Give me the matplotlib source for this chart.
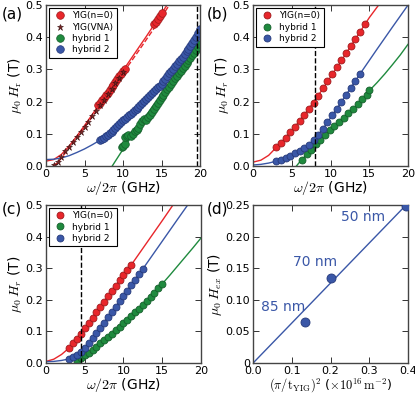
import matplotlib
matplotlib.use("Agg")
import matplotlib.pyplot as plt
from matplotlib.ticker import FuncFormatter

plt.rcParams['mathtext.fontset'] = 'cm'
plt.rcParams['xtick.direction'] = 'in'
plt.rcParams['ytick.direction'] = 'in'
plt.rcParams['xtick.top'] = True
plt.rcParams['ytick.right'] = True
plt.rcParams['font.size'] = 8

RED, GREEN, BLUE = '#e8262b', '#1f8a3e', '#3a57a7'
RED_E, GREEN_E, BLUE_E = '#9e1a1c', '#155e2b', '#25397a'

# ---------- panel (a) ----------
a_red_f = [6.8, 7.0, 7.25, 7.5, 7.75, 8.0, 8.25, 8.5, 8.75, 9.0, 9.25, 9.5, 9.75, 10.0, 10.25,
           14.0, 14.25, 14.5, 14.75, 15.0]
a_red_h = [0.19, 0.196, 0.204, 0.212, 0.22, 0.228, 0.236, 0.245, 0.253, 0.262, 0.27, 0.279, 0.287, 0.295, 0.303,
           0.44, 0.449, 0.458, 0.467, 0.476]
a_vna_f = [1.0, 1.5, 2.0, 2.5, 3.0, 3.5, 4.0, 4.5, 5.0, 5.5, 6.0, 6.5, 7.0, 7.5, 8.0, 8.5, 9.0, 9.5, 10.0]
a_vna_h = [0.004, 0.012, 0.028, 0.045, 0.06, 0.075, 0.09, 0.106, 0.122, 0.138, 0.155, 0.172, 0.189, 0.206,
           0.223, 0.24, 0.257, 0.274, 0.291]
a_h1_f = [9.8, 10.0, 10.2, 10.3, 10.5, 10.7, 11.0, 11.25, 11.5, 11.75, 12.0, 12.25, 12.5, 12.75, 13.0,
          13.25, 13.5, 13.75, 14.0, 14.25, 14.5, 14.75, 15.0, 15.25, 15.5, 15.75, 16.0, 16.25, 16.5,
          16.75, 17.0, 17.25, 17.5, 17.75, 18.0, 18.25, 18.5, 18.75, 19.0, 19.25, 19.5, 19.75, 20.0]
a_h1_h = [0.058, 0.063, 0.068, 0.09, 0.093, 0.096, 0.092, 0.1, 0.108, 0.112, 0.118, 0.13, 0.14, 0.147,
          0.143, 0.152, 0.16, 0.169, 0.178, 0.187, 0.196, 0.205, 0.213, 0.222, 0.23, 0.239, 0.247, 0.256,
          0.264, 0.272, 0.28, 0.288, 0.296, 0.304, 0.312, 0.32, 0.328, 0.336, 0.344, 0.352, 0.36, 0.369,
          0.378]
a_h2_f = [7.0, 7.25, 7.5, 7.75, 8.0, 8.25, 8.5, 8.75, 9.0, 9.25, 9.5, 9.75, 10.0, 10.25, 10.5, 10.75,
          11.0, 11.25, 11.5, 11.75, 12.0, 12.25, 12.5, 12.75, 13.0, 13.25, 13.5, 13.75, 14.0, 14.25,
          14.5, 14.75, 15.0, 15.25, 15.5, 15.75, 16.0, 16.25, 16.5, 16.75, 17.0, 17.25, 17.5, 17.75,
          18.0, 18.25, 18.5, 18.75, 19.0, 19.25, 19.5, 19.75, 20.0]
a_h2_h = [0.08, 0.084, 0.088, 0.092, 0.097, 0.102, 0.107, 0.112, 0.118, 0.124, 0.13, 0.136, 0.142, 0.147,
          0.152, 0.158, 0.163, 0.168, 0.173, 0.178, 0.184, 0.19, 0.196, 0.202, 0.208, 0.214, 0.22, 0.226,
          0.232, 0.238, 0.244, 0.25, 0.256, 0.263, 0.27, 0.279, 0.288, 0.295, 0.303, 0.31, 0.318, 0.325,
          0.333, 0.34, 0.348, 0.356, 0.365, 0.374, 0.383, 0.392, 0.402, 0.413, 0.425]
a_redfit_f = [0, 1, 2, 3, 4, 5, 6, 7, 8, 9, 10, 11, 12, 13, 14, 15, 15.7]
a_redfit_h = [0.015, 0.02, 0.036, 0.062, 0.093, 0.126, 0.16, 0.195, 0.229, 0.263, 0.297, 0.332, 0.367,
              0.402, 0.438, 0.474, 0.5]
a_vnafit_f = [0.9, 1.5, 2, 3, 4, 5, 6, 7, 8, 9, 10, 11, 12, 13, 14, 15, 16.0]
a_vnafit_h = [0.0, 0.01, 0.025, 0.056, 0.088, 0.12, 0.153, 0.187, 0.221, 0.255, 0.289, 0.323, 0.357,
              0.392, 0.427, 0.463, 0.5]
a_h1fit_f = [8.6, 9, 10, 11, 12, 13, 14, 15, 16, 17, 18, 19, 20]
a_h1fit_h = [0.0, 0.015, 0.052, 0.088, 0.123, 0.157, 0.19, 0.222, 0.254, 0.285, 0.316, 0.347, 0.378]
a_h2fit_f = [0, 1, 2, 3, 4, 5, 6, 7, 8, 10, 12, 14, 16, 18, 20]
a_h2fit_h = [0.02, 0.021, 0.025, 0.032, 0.042, 0.053, 0.066, 0.08, 0.097, 0.142, 0.184, 0.232, 0.29, 0.348, 0.425]
a_vline = 19.6

# ---------- panel (b) ----------
b_red_f = [3.0, 3.6, 4.2, 4.8, 5.4, 6.0, 6.6, 7.2, 7.8, 8.4, 9.0, 9.6, 10.2, 10.8, 11.4, 12.0, 12.6,
           13.2, 13.8, 14.4]
b_red_h = [0.058, 0.072, 0.088, 0.105, 0.122, 0.14, 0.158, 0.177, 0.197, 0.219, 0.241, 0.263, 0.285,
           0.307, 0.329, 0.351, 0.373, 0.395, 0.418, 0.44]
b_h1_f = [6.3, 6.9, 7.5, 8.1, 8.7, 9.3, 9.9, 10.5, 11.1, 11.7, 12.3, 12.9, 13.5, 14.1, 14.7, 15.0]
b_h1_h = [0.02, 0.036, 0.051, 0.067, 0.082, 0.097, 0.111, 0.124, 0.137, 0.15, 0.164, 0.178, 0.192,
          0.207, 0.222, 0.236]
b_h2_f = [3.0, 3.6, 4.2, 4.8, 5.4, 6.0, 6.6, 7.2, 7.8, 8.4, 9.0, 9.6, 10.2, 10.8, 11.4, 12.0, 12.6, 13.2, 13.8]
b_h2_h = [0.015, 0.02, 0.026, 0.032, 0.039, 0.046, 0.055, 0.066, 0.081, 0.097, 0.115, 0.136, 0.157,
          0.178, 0.2, 0.221, 0.243, 0.264, 0.286]
b_redfit_f = [0, 1, 2, 3, 4, 5, 6, 7, 8, 9, 10, 11, 12, 13, 14, 15, 16.2]
b_redfit_h = [0.012, 0.018, 0.033, 0.058, 0.083, 0.111, 0.14, 0.172, 0.205, 0.24, 0.277, 0.313, 0.35,
              0.387, 0.424, 0.461, 0.5]
b_h1fit_f = [5.6, 6, 7, 8, 9, 10, 11, 12, 13, 14, 15, 16, 17, 18, 19, 20]
b_h1fit_h = [0.0, 0.012, 0.038, 0.064, 0.09, 0.113, 0.135, 0.157, 0.18, 0.204, 0.234, 0.259, 0.286,
             0.315, 0.345, 0.378]
b_h2fit_f = [0, 1, 2, 3, 4, 5, 6, 7, 8, 9, 10, 11, 12, 13, 14, 16, 18, 20]
b_h2fit_h = [0.003, 0.005, 0.009, 0.015, 0.024, 0.034, 0.046, 0.062, 0.086, 0.115, 0.15, 0.185, 0.221,
             0.257, 0.293, 0.363, 0.432, 0.5]
b_vline = 8.0

# ---------- panel (c) ----------
c_red_f = [3.0, 3.5, 4.0, 4.5, 5.0, 5.5, 6.0, 6.5, 7.0, 7.5, 8.0, 8.5, 9.0, 9.5, 10.0, 10.5, 11.0]
c_red_h = [0.048, 0.062, 0.077, 0.093, 0.11, 0.127, 0.143, 0.16, 0.177, 0.194, 0.211, 0.228, 0.245,
           0.262, 0.278, 0.295, 0.31]
c_h1_f = [4.0, 4.5, 5.0, 5.5, 6.0, 6.5, 7.0, 7.5, 8.0, 8.5, 9.0, 9.5, 10.0, 10.5, 11.0, 11.5, 12.0,
          12.5, 13.0, 13.5, 14.0, 14.5, 15.0]
c_h1_h = [0.005, 0.015, 0.024, 0.033, 0.042, 0.052, 0.062, 0.072, 0.082, 0.093, 0.104, 0.115, 0.126,
          0.137, 0.148, 0.16, 0.172, 0.184, 0.196, 0.209, 0.222, 0.236, 0.25]
c_h2_f = [3.0, 3.5, 4.0, 4.5, 5.0, 5.5, 6.0, 6.5, 7.0, 7.5, 8.0, 8.5, 9.0, 9.5, 10.0, 10.5, 11.0,
          11.5, 12.0, 12.5]
c_h2_h = [0.013, 0.018, 0.025, 0.035, 0.048, 0.063, 0.079, 0.095, 0.112, 0.128, 0.145, 0.161, 0.178,
          0.195, 0.212, 0.229, 0.246, 0.263, 0.28, 0.297]
c_redfit_f = [0, 1, 2, 3, 4, 5, 6, 7, 8, 9, 10, 11, 12, 13, 14, 15, 16.4]
c_redfit_h = [0.005, 0.012, 0.027, 0.048, 0.077, 0.11, 0.143, 0.177, 0.211, 0.245, 0.278, 0.31, 0.345,
              0.38, 0.415, 0.45, 0.5]
c_h1fit_f = [3.8, 4, 5, 6, 7, 8, 9, 10, 11, 12, 13, 14, 15, 16, 17, 18, 19, 20]
c_h1fit_h = [0.0, 0.005, 0.024, 0.042, 0.062, 0.082, 0.104, 0.126, 0.148, 0.172, 0.196, 0.222, 0.25,
             0.278, 0.307, 0.336, 0.365, 0.395]
c_h2fit_f = [0, 1, 2, 3, 4, 5, 6, 7, 8, 9, 10, 11, 12, 13, 14, 15, 16, 17, 18.3]
c_h2fit_h = [0.004, 0.005, 0.008, 0.013, 0.025, 0.048, 0.079, 0.112, 0.145, 0.178, 0.212, 0.246, 0.28,
             0.315, 0.35, 0.385, 0.42, 0.455, 0.5]
c_vline = 4.5

# ---------- panel (d) ----------
d_x = [0.135, 0.2, 0.395]
d_y = [0.065, 0.134, 0.248]
d_fit_x = [0.0, 0.4]
d_fit_y = [0.0, 0.253]
d_labels = ['85 nm', '70 nm', '50 nm']
d_label_pos = [(0.02, 0.089), (0.103, 0.16), (0.228, 0.231)]

fig = plt.figure(figsize=(4.15, 3.98), dpi=100)
ax_a = fig.add_axes([0.111, 0.583, 0.371, 0.404])
ax_b = fig.add_axes([0.610, 0.583, 0.373, 0.404])
ax_c = fig.add_axes([0.111, 0.088, 0.373, 0.397])
ax_d = fig.add_axes([0.610, 0.088, 0.373, 0.397])

ms = 5
# (a)
ax_a.plot(a_redfit_f, a_redfit_h, '-', color=RED, lw=1)
ax_a.plot(a_vnafit_f, a_vnafit_h, '--', color=RED, lw=1)
ax_a.plot(a_h2fit_f, a_h2fit_h, '-', color=BLUE, lw=1)
ax_a.plot(a_h1fit_f, a_h1fit_h, '-', color=GREEN, lw=1)
ax_a.plot(a_red_f, a_red_h, 'o', color=RED, mec=RED_E, mew=0.5, ms=5.5, label='YIG(n=0)')
ax_a.plot(a_vna_f, a_vna_h, '*', color='#7a2222', mec='#3a1010', mew=0.4, ms=4.5, label='YIG(VNA)')
ax_a.plot(a_h1_f, a_h1_h, 'o', color=GREEN, mec=GREEN_E, mew=0.5, ms=5.5, label='hybrid 1')
ax_a.plot(a_h2_f, a_h2_h, 'o', color=BLUE, mec=BLUE_E, mew=0.5, ms=5.5, label='hybrid 2')
ax_a.axvline(a_vline, color='k', ls='--', lw=1)
ax_a.set_ylabel(r'$\mu_0\,H_{\rm r}$ (T)', fontsize=10, labelpad=1)

# (b)
ax_b.plot(b_redfit_f, b_redfit_h, '-', color=RED, lw=1)
ax_b.plot(b_h2fit_f, b_h2fit_h, '-', color=BLUE, lw=1)
ax_b.plot(b_h1fit_f, b_h1fit_h, '-', color=GREEN, lw=1)
ax_b.plot(b_red_f, b_red_h, 'o', color=RED, mec=RED_E, mew=0.6, ms=ms, label='YIG(n=0)')
ax_b.plot(b_h1_f, b_h1_h, 'o', color=GREEN, mec=GREEN_E, mew=0.6, ms=ms, label='hybrid 1')
ax_b.plot(b_h2_f, b_h2_h, 'o', color=BLUE, mec=BLUE_E, mew=0.6, ms=ms, label='hybrid 2')
ax_b.axvline(b_vline, color='k', ls='--', lw=1)
ax_b.set_ylabel(r'$\mu_0\,H_r$ (T)', fontsize=10, labelpad=1)

# (c)
ax_c.plot(c_redfit_f, c_redfit_h, '-', color=RED, lw=1)
ax_c.plot(c_h2fit_f, c_h2fit_h, '-', color=BLUE, lw=1)
ax_c.plot(c_h1fit_f, c_h1fit_h, '-', color=GREEN, lw=1)
ax_c.plot(c_red_f, c_red_h, 'o', color=RED, mec=RED_E, mew=0.6, ms=ms, label='YIG(n=0)')
ax_c.plot(c_h1_f, c_h1_h, 'o', color=GREEN, mec=GREEN_E, mew=0.6, ms=ms, label='hybrid 1')
ax_c.plot(c_h2_f, c_h2_h, 'o', color=BLUE, mec=BLUE_E, mew=0.6, ms=ms, label='hybrid 2')
ax_c.axvline(c_vline, color='k', ls='--', lw=1)
ax_c.set_ylabel(r'$\mu_0\,H_r$ (T)', fontsize=10, labelpad=1)

for ax in (ax_a, ax_b, ax_c):
    ax.set_xlim(0, 20)
    ax.set_ylim(0, 0.5)
    ax.set_xticks([0, 5, 10, 15, 20])
    ax.set_yticks([0.0, 0.1, 0.2, 0.3, 0.4, 0.5])
    ax.set_xlabel(r'$\omega/2\pi$ (GHz)', fontsize=10, labelpad=0)
    leg = ax.legend(loc='upper left', numpoints=1, fontsize=6.5, fancybox=False,
                    edgecolor='k', framealpha=1, borderpad=0.4, handletextpad=0.6,
                    labelspacing=0.25, handlelength=1.6, borderaxespad=0.3)
    leg.get_frame().set_linewidth(0.8)

# (d)
ax_d.plot(d_fit_x, d_fit_y, '-', color=BLUE, lw=1)
ax_d.plot(d_x, d_y, 'o', color=BLUE, mec=BLUE_E, mew=0.6, ms=6.5, zorder=5)
for lab, (x, y) in zip(d_labels, d_label_pos):
    ax_d.text(x, y, lab, color=BLUE, fontsize=10, va='center', ha='left')
ax_d.set_xlim(0, 0.4)
ax_d.set_ylim(0, 0.25)
ax_d.set_xticks([0.0, 0.1, 0.2, 0.3, 0.4])
ax_d.set_yticks([0, 0.05, 0.10, 0.15, 0.20, 0.25])
ax_d.yaxis.set_major_formatter(FuncFormatter(lambda v, p: '0' if v == 0 else '%.2f' % v))
ax_d.set_xlabel(r'$(\pi/\mathrm{t}_{\mathrm{YIG}})^2$ ($\times10^{16}\,\mathrm{m}^{-2}$)', fontsize=9, labelpad=0)
ax_d.set_ylabel(r'$\mu_0\,H_{ex}$ (T)', fontsize=10, labelpad=1)

for ax in (ax_a, ax_b, ax_c, ax_d):
    ax.tick_params(labelsize=8, length=4, width=0.7, pad=2, color='#333333')
    for s in ax.spines.values():
        s.set_color('#444444')
        s.set_linewidth(1.0)

for lab, x, y in [('(a)', 0.005, 0.965), ('(b)', 0.497, 0.965), ('(c)', 0.005, 0.475), ('(d)', 0.497, 0.475)]:
    fig.text(x, y, lab, fontsize=11, va='center', ha='left')

fig.savefig('out.png', dpi=100)
